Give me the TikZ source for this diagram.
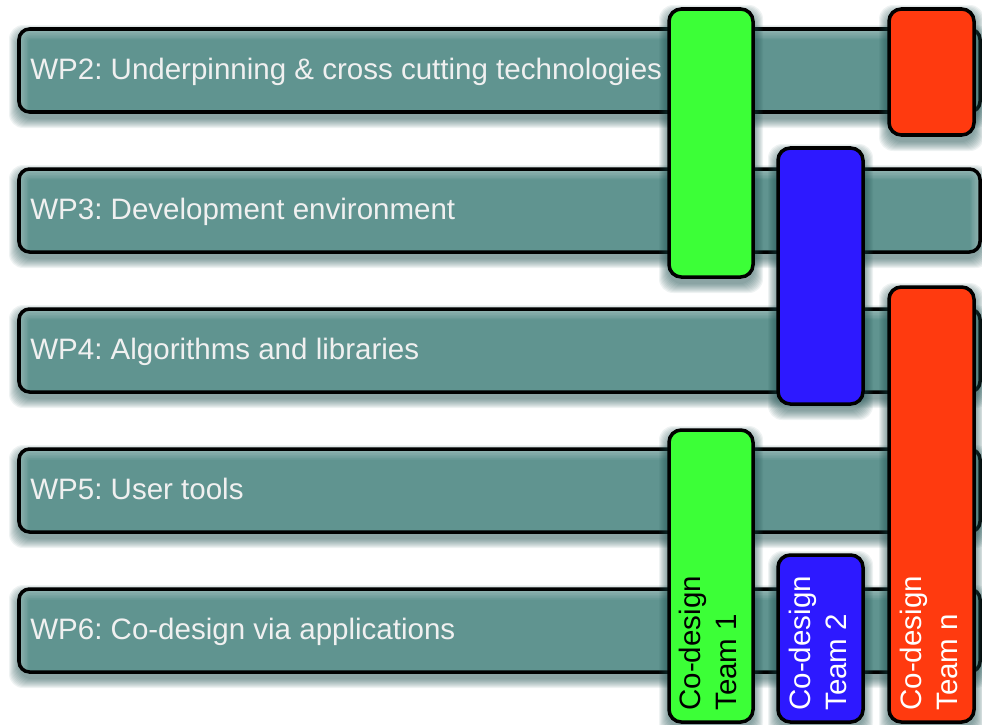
\documentclass[tikz,border=0pt]{standalone}
\usepackage{fontspec}
\setmainfont{Liberation Sans}
\frenchspacing

\definecolor{wpteal}{RGB}{96,148,144}
\definecolor{shadowteal}{RGB}{30,80,80}
\definecolor{cdgreen}{RGB}{60,255,55}
\definecolor{cdblue}{RGB}{45,25,255}
\definecolor{cdred}{RGB}{255,58,15}

% soft shadow below a box: x1 y1 x2 y2
\newcommand{\softshadow}[4]{%
  \foreach \k in {1,...,10}
    \fill[shadowteal, opacity=0.07, rounded corners=8pt] (#1-\k,#2+6-\k) rectangle (#3+\k,#4+6+\k);
}

% one work package bar, top edge at y
\newcommand{\wpbar}[1]{%
  \softshadow{19}{#1}{980}{#1+83}
  \fill[wpteal, rounded corners=6pt] (19,#1) rectangle (980,#1+83);
  \begin{scope}
    \clip[rounded corners=6pt] (19,#1) rectangle (980,#1+83);
    \foreach \k [evaluate=\k as \w using \k*1.8] in {1,...,6}
      \draw[white, opacity=0.06, line width=\w pt, rounded corners=6pt] (19,#1+1) rectangle (980,#1+95);
  \end{scope}
  \draw[line width=2pt, rounded corners=6pt] (19,#1) rectangle (980,#1+83);
}

% one co-design column: x1 y1 x2 y2 colour
\newcommand{\cdcol}[5]{%
  \softshadow{#1}{#2}{#3}{#4}
  \filldraw[fill=#5, cdbox] (#1,#2) rectangle (#3,#4);
}

\begin{document}
\begin{tikzpicture}[x=0.02cm, y=-0.02cm,
    wplabel/.style={text=white!94!black, font=\fontsize{16.8}{20.5}\selectfont,
      inner sep=0pt, text height=0.75em, text depth=0.25em, anchor=west},
    cdlabel/.style={font=\fontsize{16.8}{20.5}\selectfont, inner sep=0pt,
      align=left, rotate=90, anchor=north west},
    cdbox/.style={line width=2pt, rounded corners=7pt}]

  \useasboundingbox (0,0) rectangle (982,724);

  % work package bars
  \wpbar{29}
  \wpbar{169}
  \wpbar{309}
  \wpbar{449}
  \wpbar{589}

  \node[wplabel] (wp2) at (30,75.5) {WP2: Underpinning \& cross cutting technologies};
  \node[wplabel] (wp3) at (30,215.5) {WP3: Development environment};
  \node[wplabel] (wp4) at (30,355.5) {WP4: Algorithms and libraries};
  \node[wplabel] (wp5) at (30,495.5) {WP5: User tools};
  \node[wplabel] (wp6) at (30,635.5) {WP6: Co-design via applications};

  % co-design teams
  \cdcol{669}{9}{753}{277}{cdgreen}
  \cdcol{889}{9}{974}{135}{cdred}
  \cdcol{778}{148}{863}{404}{cdblue}
  \cdcol{889}{287}{974}{722}{cdred}
  \cdcol{669}{430}{753}{722}{cdgreen}
  \cdcol{778}{555}{863}{722}{cdblue}

  \node[cdlabel, text=black] (team1) at (679,711) {Co-design\\Team 1};
  \node[cdlabel, text=white] (team2) at (789,711) {Co-design\\Team 2};
  \node[cdlabel, text=white] (teamn) at (899.5,711) {Co-design\\Team n};
\end{tikzpicture}
\end{document}
